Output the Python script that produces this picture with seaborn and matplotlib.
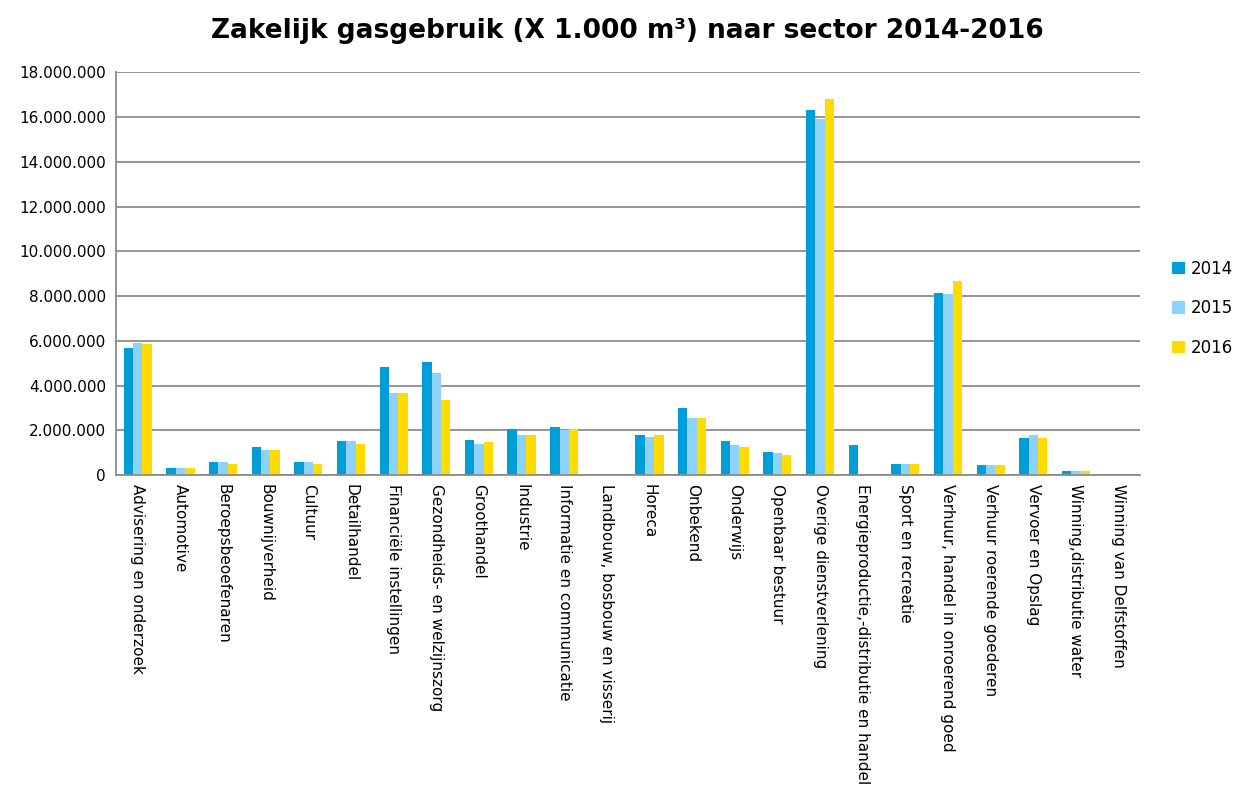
import pandas as pd
import seaborn as sns
import matplotlib.pyplot as plt
from matplotlib.ticker import FuncFormatter

sectors = [
    'Advisering en onderzoek', 'Automotive', 'Beroepsbeoefenaren', 'Bouwnijverheid',
    'Cultuur', 'Detailhandel', 'Financiële instellingen', 'Gezondheids- en welzijnszorg',
    'Groothandel', 'Industrie', 'Informatie en communicatie', 'Landbouw, bosbouw en visserij',
    'Horeca', 'Onbekend', 'Onderwijs', 'Openbaar bestuur', 'Overige dienstverlening',
    'Energieproductie,-distributie en handel', 'Sport en recreatie',
    'Verhuur, handel in onroerend goed', 'Verhuur roerende goederen', 'Vervoer en Opslag',
    'Winning,distributie water', 'Winning van Delfstoffen',
]
years = ['2014', '2015', '2016']

# waarden in 1.000 m3
gas_2014 = [5700000, 310000, 580000, 1260000, 580000, 1520000, 4840000, 5050000,
            1590000, 2070000, 2140000, 20000, 1790000, 3020000, 1520000, 1060000,
            16330000, 1330000, 500000, 8160000, 450000, 1670000, 180000, 0]
gas_2015 = [5910000, 310000, 580000, 1120000, 580000, 1520000, 3690000, 4570000,
            1380000, 1790000, 2010000, 20000, 1730000, 2550000, 1330000, 980000,
            15930000, 0, 500000, 8080000, 450000, 1790000, 180000, 0]
gas_2016 = [5860000, 310000, 500000, 1120000, 500000, 1380000, 3690000, 3360000,
            1470000, 1790000, 2070000, 20000, 1790000, 2550000, 1250000, 910000,
            16790000, 0, 500000, 8690000, 450000, 1670000, 170000, 0]

colors = ['#009ED9', '#8DD2FD', '#FFDB00']

df = pd.DataFrame({
    'sector': sectors * 3,
    'jaar': [y for y in years for _ in sectors],
    'gas': gas_2014 + gas_2015 + gas_2016,
})

sns.set_style('white')
plt.rcParams['font.family'] = ['DejaVu Sans']
plt.rcParams['text.color'] = 'black'
plt.rcParams['xtick.color'] = 'black'
plt.rcParams['ytick.color'] = 'black'

fig = plt.figure(figsize=(12.39, 8.11), dpi=100)
ax = fig.add_axes([0.094, 0.414, 0.826, 0.497])

sns.barplot(data=df, x='sector', y='gas', hue='jaar', palette=colors,
            width=0.66, gap=0, saturation=1, linewidth=0, ax=ax)

ax.set_ylim(0, 18000000)
ax.set_yticks(range(0, 18000001, 2000000))
ax.yaxis.set_major_formatter(FuncFormatter(lambda v, p: f'{int(v):,}'.replace(',', '.')))
ax.yaxis.grid(True, color='#8c8c8c', linewidth=1.3)
ax.set_axisbelow(True)
ax.set_xlim(-0.5, len(sectors) - 0.5)
ax.set_xlabel('')
ax.set_ylabel('')
ax.tick_params(axis='y', labelsize=11, length=4, color='#8c8c8c', labelcolor='black')
ax.tick_params(axis='x', labelsize=11, length=0, pad=6, labelcolor='black')
plt.setp(ax.get_xticklabels(), rotation=270, ha='center', va='top')

for side in ['top', 'right']:
    ax.spines[side].set_visible(False)
for side in ['left', 'bottom']:
    ax.spines[side].set_color('#8c8c8c')
    ax.spines[side].set_linewidth(1.3)

leg = ax.legend(loc='center left', bbox_to_anchor=(1.025, 0.414), frameon=False,
                fontsize=12, handlelength=0.75, handleheight=0.75, labelspacing=1.3,
                handletextpad=0.35, borderaxespad=0)
for t in leg.get_texts():
    t.set_color('black')

fig.suptitle('Zakelijk gasgebruik (X 1.000 m³) naar sector 2014-2016',
             fontsize=19, fontweight='bold', x=0.506, y=0.978, color='black')

fig.savefig('out.png', dpi=100)
